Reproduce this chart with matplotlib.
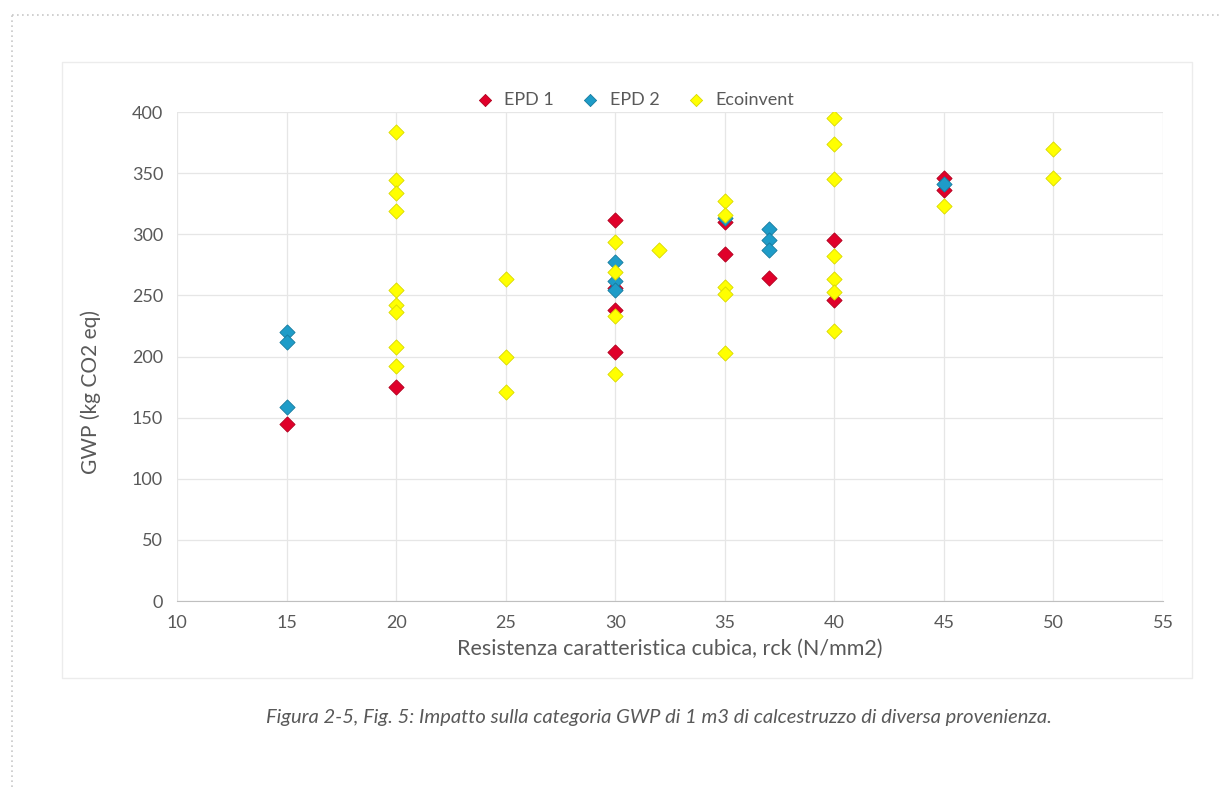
import matplotlib
matplotlib.use("Agg")
import matplotlib.pyplot as plt
from matplotlib.patches import Rectangle
from matplotlib.lines import Line2D

# ---- data ----
epd1_x = [15, 20, 30, 30, 30, 30, 35, 35, 37, 40, 40, 45, 45]
epd1_y = [145, 175, 312, 256, 238, 204, 284, 310, 264, 295, 246, 346, 336]

epd2_x = [15, 15, 15, 30, 30, 30, 35, 37, 37, 37, 45]
epd2_y = [220, 212, 159, 277, 262, 254, 313, 304, 295, 287, 341]

eco_x = [20, 20, 20, 20, 20, 20, 20, 20, 20,
         25, 25, 25,
         30, 30, 30, 30,
         32,
         35, 35, 35, 35, 35,
         40, 40, 40, 40, 40, 40, 40,
         45,
         50, 50]
eco_y = [384, 344, 334, 319, 254, 242, 236, 208, 192,
         263, 200, 171,
         294, 269, 233, 186,
         287,
         327, 316, 257, 251, 203,
         395, 374, 345, 282, 263, 253, 221,
         323,
         370, 346]

series_names = ["EPD 1", "EPD 2", "Ecoinvent"]
x_ticks = [10, 15, 20, 25, 30, 35, 40, 45, 50, 55]
y_ticks = [0, 50, 100, 150, 200, 250, 300, 350, 400]

x_label = "Resistenza caratteristica cubica, rck (N/mm2)"
y_label = "GWP (kg CO2 eq)"
caption = "Figura 2-5, Fig. 5: Impatto sulla categoria GWP di 1 m3 di calcestruzzo di diversa provenienza."

plt.rcParams['font.family'] = ['Lato', 'DejaVu Sans']

fig = plt.figure(figsize=(12.2, 7.87), dpi=100)
fig.patch.set_facecolor("white")

# outer dotted page frame
fig.add_artist(Line2D([12/1220, 1.0], [1-15/787, 1-15/787], transform=fig.transFigure,
                      color="#c8c8c8", lw=1.2, ls=(0, (1, 2))))
fig.add_artist(Line2D([12/1220, 12/1220], [0, 1-15/787], transform=fig.transFigure,
                      color="#c8c8c8", lw=1.2, ls=(0, (1, 2))))
# chart area border
fig.add_artist(Rectangle((62/1220, 1-678/787), (1192-62)/1220, (678-62)/787,
                         transform=fig.transFigure, fill=False, ec="#ececec", lw=1))

ax = fig.add_axes([177/1220, 1-601/787, (1163-177)/1220, (601-112)/787])

colors = ["#E0002A", "#1E9CC8", "#FFFF00"]
edges = ["#B0001E", "#167A9E", "#D8D800"]
ax.scatter(epd1_x, epd1_y, marker="D", s=60, c=colors[0], edgecolors=edges[0],
           linewidths=0.6, zorder=3, label=series_names[0])
ax.scatter(epd2_x, epd2_y, marker="D", s=60, c=colors[1], edgecolors=edges[1],
           linewidths=0.6, zorder=4, label=series_names[1])
ax.scatter(eco_x, eco_y, marker="D", s=60, c=colors[2], edgecolors=edges[2],
           linewidths=0.6, zorder=5, label=series_names[2])

ax.set_xlim(10, 55)
ax.set_ylim(0, 400)
ax.set_xticks(x_ticks)
ax.set_yticks(y_ticks)
ax.grid(True, color="#e6e6e6", lw=0.9)
ax.set_axisbelow(True)
for s in ["top", "right", "left"]:
    ax.spines[s].set_visible(False)
ax.spines["bottom"].set_color("#bfbfbf")
ax.tick_params(length=0, labelsize=13, colors="#595959", pad=10)

ax.set_xlabel(x_label, fontsize=15.5, color="#595959", labelpad=6)
ax.set_ylabel(y_label, fontsize=15, color="#595959")
ax.yaxis.set_label_coords(-0.077, 0.427)

leg = ax.legend(loc="center", bbox_to_anchor=(0.46, 1.025), ncol=3, frameon=False,
                fontsize=13, handletextpad=0.1, columnspacing=1.0, markerscale=0.8,
                borderaxespad=0)
for t in leg.get_texts():
    t.set_color("#595959")

fig.text(0.54, 1-717/787, caption, ha="center", va="center", fontsize=14.5,
         style="italic", color="#595959")

fig.savefig("out.png", dpi=100, facecolor="white")
